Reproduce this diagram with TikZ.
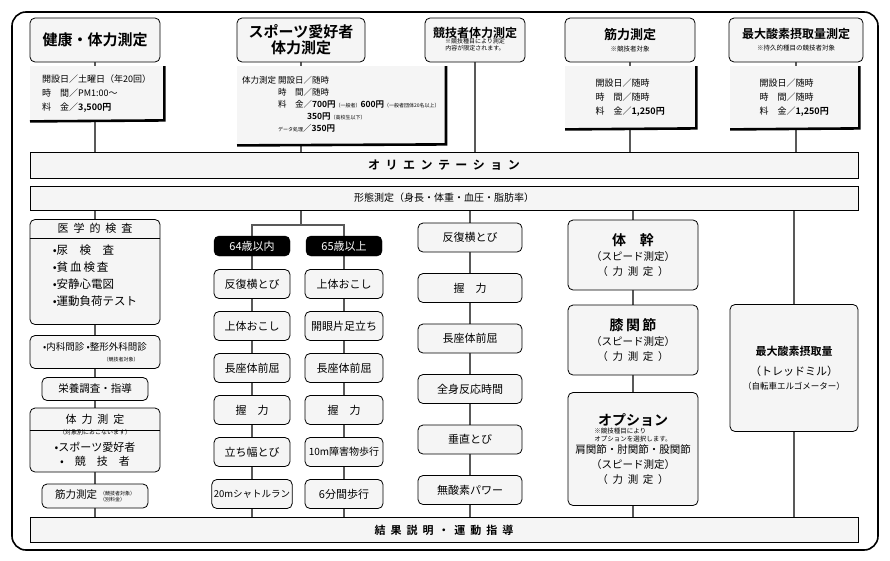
\documentclass[tikz,border=0pt]{standalone}
\usepackage{fontspec}
\setmainfont{Noto Sans CJK JP}[BoldFont=* Bold]
\usetikzlibrary{positioning,backgrounds}

\tikzset{
  box/.style={draw, thick, rounded corners=5, fill=gray!8, align=center, inner sep=2pt},
  title/.style={box, font=\bfseries\fontsize{15}{17}\selectfont, minimum height=44pt},
  panel/.style={fill=gray!8, align=left, font=\fontsize{9}{14}\selectfont, inner sep=5pt, anchor=north west},
  panelshade/.style={line width=2.6pt},
  bar/.style={draw, thick, fill=gray!8, minimum width=828pt, font=\bfseries\fontsize{11}{13}\selectfont},
  item/.style={box, minimum height=29pt, font=\fontsize{11}{13}\selectfont},
  age/.style={draw, rounded corners=5, fill=black, text=white, minimum width=76pt, minimum height=20pt, font=\fontsize{11}{13}\selectfont},
  link/.style={line width=2.6pt, gray!70!black}
}

\begin{document}
\begin{tikzpicture}[x=1pt, y=-1pt]
  \useasboundingbox (0,0) rectangle (890,560);
  \draw[line width=1.6pt, rounded corners=14] (12,12) rectangle (878,550);

  % titles
  \node[title, minimum width=130pt] (kenko) at (95,40) {健康・体力測定};
  \node[title, minimum width=128pt, font=\bfseries\fontsize{15}{16}\selectfont] (sports) at (301,40) {スポーツ愛好者\\体力測定};
  \node[box, minimum width=100pt, minimum height=44pt] (kyogi) at (475,40)
    {{\bfseries\fontsize{12}{14}\selectfont 競技者体力測定}\\[-2pt]
     {\fontsize{6}{7}\selectfont\begin{tabular}{@{}c@{}}※競技種目により測定\\内容が限定されます。\end{tabular}}};
  \node[box, minimum width=130pt, minimum height=44pt] (kinryoku) at (630,40)
    {{\bfseries\fontsize{13}{15}\selectfont 筋力測定}\\{\fontsize{6.5}{8}\selectfont ※競技者対象}};
  \node[box, minimum width=134pt, minimum height=44pt] (vo2) at (796,40)
    {{\bfseries\fontsize{12}{14}\selectfont 最大酸素摂取量測定}\\{\fontsize{6.5}{8}\selectfont ※持久的種目の競技者対象}};

  % info panels
  \node[panel, minimum width=133pt, minimum height=54pt] (pKenko) at (30,66)
    {開設日／土曜日（年20回）\\時\quad 間／PM1:00～\\料\quad 金／\textbf{3,500円}};
  \node[panel, minimum width=168pt, minimum height=78pt, font=\fontsize{8.5}{12}\selectfont] (pSports) at (237,66)
    {\begin{tabular}{@{}l@{\ }l@{}}
     体力測定 & 開設日／随時\\
      & 時\quad 間／随時\\
      & 料\quad 金／\textbf{700円}{\tiny（一般者）}\textbf{600円}{\tiny（一般者団体20名以上）}\\
      & \hspace{3.4em}\textbf{350円}{\tiny（高校生以下）}\\
      & {\tiny データ処理}／\textbf{350円}
     \end{tabular}};
  \node[panel, minimum width=130pt, minimum height=62pt] (pKinryoku) at (565,66)
    {開設日／随時\\時\quad 間／随時\\料\quad 金／\textbf{1,250円}};
  \node[panel, minimum width=128pt, minimum height=62pt] (pVo2) at (730,66)
    {開設日／随時\\時\quad 間／随時\\料\quad 金／\textbf{1,250円}};
  \foreach \p in {pKenko, pSports, pKinryoku, pVo2}
    \draw[panelshade] ([xshift=1pt]\p.north east) -- ([xshift=1pt]\p.south east) -- ([yshift=-1pt]\p.south west);

  % bars
  \node[bar, minimum height=26pt, font=\bfseries\fontsize{12}{14}\selectfont] (orient) at (444,165) {オ\ \ リ\ \ エ\ \ ン\ \ テ\ \ ー\ \ シ\ \ ョ\ \ ン};
  \node[bar, minimum height=24pt, font=\fontsize{10}{12}\selectfont] (keitai) at (444,198) {形態測定（身長・体重・血圧・脂肪率）};
  \node[bar, minimum height=25pt] (kekka) at (444,530) {結\ \ 果\ \ 説\ \ 明\ \ ・\ \ 運\ \ 動\ \ 指\ \ 導};

  % column 1
  \node[box, minimum width=130pt, minimum height=105pt, font=\fontsize{11.5}{17}\selectfont, align=left] (igaku) at (95,272)
    {\\[0pt]•尿\quad 検\quad 査\\•貧\,血\,検\,査\\•安静心電図\\•運動負荷テスト};
  \node[font=\fontsize{11}{13}\selectfont, below=1pt of igaku.north] (igakuT) {医\ \ 学\ \ 的\ \ 検\ \ 査};
  \draw[thick] (igaku.west |- 0,238) -- (igaku.east |- 0,238);
  \node[box, minimum width=130pt, minimum height=33pt, font=\fontsize{9.5}{11}\selectfont] (monshin) at (95,352)
    {•内科問診 •整形外科問診\\\hspace*{5.5em}{\tiny （競技者対象）}};
  \node[box, minimum width=106pt, minimum height=23pt, font=\fontsize{10.5}{12}\selectfont] (eiyo) at (95,389) {栄養調査・指導};
  \node[box, minimum width=130pt, minimum height=64pt, font=\fontsize{11}{14}\selectfont] (tairyoku) at (95,440)
    {体\ \ 力\ \ 測\ \ 定\\[-3pt]{\fontsize{6}{7}\selectfont （対象別におこないます）}\\[3pt]•スポーツ愛好者\\•\quad 競\quad 技\quad 者};
  \draw[thick] (tairyoku.west |- 0,430) -- (tairyoku.east |- 0,430);
  \node[box, minimum width=106pt, minimum height=24pt, font=\fontsize{10.5}{12}\selectfont] (kinryoku1) at (95,496)
    {筋力測定\hspace{3pt}{\fontsize{5}{5.5}\selectfont\begin{tabular}[c]{@{}l@{}}（競技者対象）\\（別料金）\end{tabular}}};

  % column 2
  \coordinate (fork) at (301,225);
  \node[age] (young) at (252,246) {64歳以内};
  \node[age] (old) at (344,246) {65歳以上};
  \foreach \n/\t [count=\i] in {y1/反復横とび, y2/上体おこし, y3/長座体前屈, y4/握\quad 力, y5/立ち幅とび, y6/{\fontsize{9.5}{11}\selectfont 20mシャトルラン}}
    \node[item, minimum width=76pt] (\n) at (252,242+42*\i) {\t};
  \foreach \n/\t [count=\i] in {o1/上体おこし, o2/開眼片足立ち, o3/長座体前屈, o4/握\quad 力, o5/{\fontsize{10}{11}\selectfont 10m障害物歩行}, o6/6分間歩行}
    \node[item, minimum width=78pt] (\n) at (344,242+42*\i) {\t};

  % column 3
  \foreach \n/\t [count=\i] in {c1/反復横とび, c2/握\quad 力, c3/長座体前屈, c4/全身反応時間, c5/垂直とび, c6/無酸素パワー}
    \node[item, minimum width=104pt] (\n) at (470,187+50.5*\i) {\t};

  % column 4
  \node[box, minimum width=130pt, minimum height=70pt, font=\fontsize{10.5}{15}\selectfont] (taikan) at (633,255)
    {{\bfseries\fontsize{14}{16}\selectfont 体\quad 幹}\\（スピード測定）\\（\ \ 力\ \ 測\ \ 定\ \ ）};
  \node[box, minimum width=130pt, minimum height=70pt, font=\fontsize{10.5}{15}\selectfont] (hiza) at (633,340)
    {{\bfseries\fontsize{14}{16}\selectfont 膝\,関\,節}\\（スピード測定）\\（\ \ 力\ \ 測\ \ 定\ \ ）};
  \node[box, minimum width=130pt, minimum height=113pt, font=\fontsize{10.5}{15}\selectfont] (option) at (633,449)
    {{\bfseries\fontsize{14}{16}\selectfont オプション}\\[-3pt]
     {\fontsize{6.5}{7.5}\selectfont\begin{tabular}{@{}l@{}}※競技種目により\\オプションを選択します。\end{tabular}}\\
     肩関節・肘関節・股関節\\（スピード測定）\\（\ \ 力\ \ 測\ \ 定\ \ ）};

  % column 5
  \node[box, minimum width=128pt, minimum height=127pt, font=\fontsize{11}{20}\selectfont] (tread) at (794,368)
    {\textbf{最大酸素摂取量}\\（トレッドミル）\\[-6pt]{\fontsize{8.5}{10}\selectfont （自転車エルゴメーター）}};

  % connectors
  \begin{scope}[on background layer]
    \draw[link] (kenko) -- (pKenko.north -| kenko);
    \draw[link] (sports) -- (pSports.north -| sports);
    \draw[link] (kyogi) -- (kyogi |- orient.north);
    \draw[link] (kinryoku) -- (kinryoku |- orient.north);
    \draw[link] (vo2) -- (vo2 |- orient.north);
    \draw[link] (pKenko.south -| kenko) -- (kenko |- orient.north);
    \draw[link] (pSports.south -| sports) -- (sports |- orient.north);
    \draw[link] (igaku) -- (monshin) -- (eiyo) -- (tairyoku) -- (kinryoku1) -- (kinryoku1 |- kekka.north);
    \draw[link] (igaku) -- (igaku |- keitai.south);
    \draw[link] (fork |- keitai.south) -- (fork) -| (young);
    \draw[link] (fork) -| (old);
    \draw[link] (young) -- (y1) -- (y2) -- (y3) -- (y4) -- (y5) -- (y6) -- (y6 |- kekka.north);
    \draw[link] (old) -- (o1) -- (o2) -- (o3) -- (o4) -- (o5) -- (o6) -- (o6 |- kekka.north);
    \draw[link] (c1 |- keitai.south) -- (c1) -- (c2) -- (c3) -- (c4) -- (c5) -- (c6) -- (c6 |- kekka.north);
    \draw[link] (taikan |- keitai.south) -- (taikan) -- (hiza) -- (option) -- (option |- kekka.north);
    \draw[link] (tread |- keitai.south) -- (tread) -- (tread |- kekka.north);
  \end{scope}
\end{tikzpicture}
\end{document}
